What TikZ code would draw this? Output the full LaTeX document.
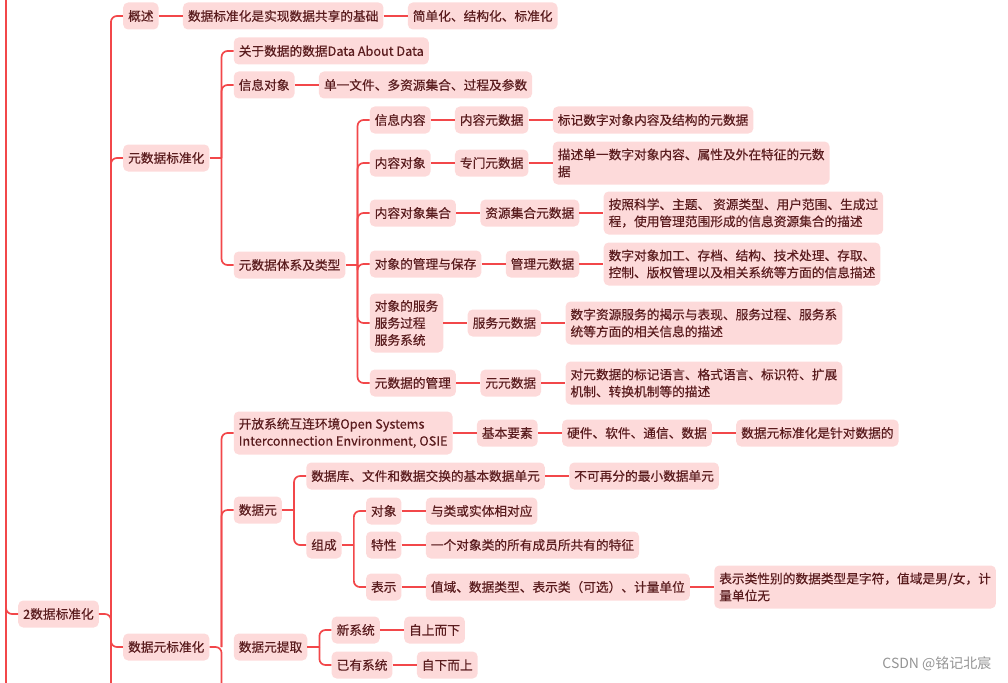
\documentclass[tikz,border=0pt]{standalone}
\usepackage{fontspec}
\newfontfamily\cjk{Noto Sans CJK SC}
\newfontfamily\cjkmed[FakeBold=0.35]{Noto Sans CJK SC}
\usetikzlibrary{positioning}
\definecolor{mmline}{HTML}{F2474A}
\definecolor{mmfill}{HTML}{FDDADA}
\definecolor{mmtext}{HTML}{5A1C1E}

\begin{document}
\begin{tikzpicture}[x=1pt, y=-1pt,
    topic/.style={fill=mmfill, text=mmtext, rounded corners=5pt, inner xsep=5pt, inner ysep=4pt, minimum height=27pt, align=left, font=\cjkmed\fontsize{12.7}{17}\selectfont},
    twoline/.style={minimum height=43pt},
    threeline/.style={minimum height=59pt},
    link/.style={draw=mmline, line width=1.7pt, rounded corners=6pt},
]
\useasboundingbox (0,0) rectangle (1008,682);

% trunk and root
\coordinate (trunk) at (6,0);
\node[topic, anchor=west] (root) at (18,614) {2数据标准化};
\draw[link] (trunk) -- (trunk |- 0,690);
\draw[link] (trunk |- 0,596) |- (root.west);

% level 1
\node[topic, anchor=west, xshift=24pt] (gaishu) at (root.east |- 0,16) {概述};
\node[topic, anchor=west, xshift=24pt] (yuanbz) at (root.east |- 0,158) {元数据标准化};
\node[topic, anchor=west, xshift=24pt] (sjybz) at (root.east |- 0,647) {数据元标准化};
\draw[link] (root.east) -- ++(12,0) -- ++(0,80);
\draw[link] (root.east) ++(12,0) |- (gaishu.west);
\draw[link] (root.east) ++(12,0) |- (yuanbz.west);
\draw[link] (root.east) ++(12,0) |- (sjybz.west);

% overview
\node[topic, right=24pt of gaishu] (jichu) {数据标准化是实现数据共享的基础};
\node[topic, right=24pt of jichu] (jdh) {简单化、结构化、标准化};
\draw[link] (gaishu)--(jichu); \draw[link] (jichu)--(jdh);

% metadata standardisation
\node[topic, anchor=west, xshift=24pt] (guanyu) at (yuanbz.east |- 0,51) {关于数据的数据Data About Data};
\node[topic, anchor=west, xshift=24pt] (xxdx) at (yuanbz.east |- 0,85) {信息对象};
\node[topic, anchor=west, xshift=24pt] (tixi) at (yuanbz.east |- 0,265) {元数据体系及类型};
\node[topic, right=24pt of xxdx] (dxwj) {单一文件、多资源集合、过程及参数};
\draw[link] (yuanbz.east) -- ++(12,0);
\draw[link] (yuanbz.east) ++(12,0) |- (guanyu.west);
\draw[link] (yuanbz.east) ++(12,0) |- (xxdx.west);
\draw[link] (yuanbz.east) ++(12,0) |- (tixi.west);
\draw[link] (xxdx)--(dxwj);

% metadata system and types
\node[topic, anchor=west, xshift=24pt] (xxnr) at (tixi.east |- 0,120) {信息内容};
\node[topic, anchor=west, xshift=24pt] (nrdx) at (tixi.east |- 0,163) {内容对象};
\node[topic, anchor=west, xshift=24pt] (nrjh) at (tixi.east |- 0,213) {内容对象集合};
\node[topic, anchor=west, xshift=24pt] (glbc) at (tixi.east |- 0,264) {对象的管理与保存};
\node[topic, anchor=west, xshift=24pt, threeline] (fuwu) at (tixi.east |- 0,323) {对象的服务\\服务过程\\服务系统};
\node[topic, anchor=west, xshift=24pt] (yygl) at (tixi.east |- 0,383) {元数据的管理};
\draw[link] (tixi.east) -- ++(12,0);
\draw[link] (tixi.east) ++(12,0) |- (xxnr.west);
\draw[link] (tixi.east) ++(12,0) |- (nrdx.west);
\draw[link] (tixi.east) ++(12,0) |- (nrjh.west);
\draw[link] (tixi.east) ++(12,0) |- (glbc.west);
\draw[link] (tixi.east) ++(12,0) |- (fuwu.west);
\draw[link] (tixi.east) ++(12,0) |- (yygl.west);

\node[topic, right=24pt of xxnr] (nrys) {内容元数据};
\node[topic, right=24pt of nrys] (nrysd) {标记数字对象内容及结构的元数据};
\node[topic, right=24pt of nrdx] (zmys) {专门元数据};
\node[topic, right=24pt of zmys, twoline] (zmysd) {描述单一数字对象内容、属性及外在特征的元数\\据};
\node[topic, right=24pt of nrjh] (zyjh) {资源集合元数据};
\node[topic, right=24pt of zyjh, twoline] (zyjhd) {按照科学、主题、 资源类型、用户范围、生成过\\程，使用管理范围形成的信息资源集合的描述};
\node[topic, right=24pt of glbc] (glys) {管理元数据};
\node[topic, right=24pt of glys, twoline] (glysd) {数字对象加工、存档、结构、技术处理、存取、\\控制、版权管理以及相关系统等方面的信息描述};
\node[topic, right=24pt of fuwu] (fwys) {服务元数据};
\node[topic, right=24pt of fwys, twoline] (fwysd) {数字资源服务的揭示与表现、服务过程、服务系\\统等方面的相关信息的描述};
\node[topic, right=24pt of yygl] (yyys) {元元数据};
\node[topic, right=24pt of yyys, twoline] (yyysd) {对元数据的标记语言、格式语言、标识符、扩展\\机制、转换机制等的描述};
\draw[link] (xxnr)--(nrys); \draw[link] (nrys)--(nrysd);
\draw[link] (nrdx)--(zmys); \draw[link] (zmys)--(zmysd);
\draw[link] (nrjh)--(zyjh); \draw[link] (zyjh)--(zyjhd);
\draw[link] (glbc)--(glys); \draw[link] (glys)--(glysd);
\draw[link] (fuwu)--(fwys); \draw[link] (fwys)--(fwysd);
\draw[link] (yygl)--(yyys); \draw[link] (yyys)--(yyysd);

% data element standardisation
\node[topic, anchor=west, xshift=24pt, twoline] (osie) at (sjybz.east |- 0,433) {开放系统互连环境Open Systems\\Interconnection Environment, OSIE};
\node[topic, anchor=west, xshift=24pt] (sjy) at (sjybz.east |- 0,510) {数据元};
\node[topic, anchor=west, xshift=24pt] (tiqu) at (sjybz.east |- 0,647) {数据元提取};
\draw[link] (sjybz.east) -- ++(12,0) -- ++(0,50);
\draw[link] (sjybz.east) ++(12,0) |- (osie.west);
\draw[link] (sjybz.east) ++(12,0) |- (sjy.west);

\node[topic, right=24pt of osie] (jbys) {基本要素};
\node[topic, right=24pt of jbys] (yjrj) {硬件、软件、通信、数据};
\node[topic, right=24pt of yjrj] (zdsj) {数据元标准化是针对数据的};
\draw[link] (osie)--(jbys); \draw[link] (jbys)--(yjrj); \draw[link] (yjrj)--(zdsj);

% data element
\node[topic, anchor=west, xshift=24pt] (jbdy) at (sjy.east |- 0,476) {数据库、文件和数据交换的基本数据单元};
\node[topic, anchor=west, xshift=24pt] (zucheng) at (sjy.east |- 0,545) {组成};
\draw[link] (sjy.east) -- ++(12,0);
\draw[link] (sjy.east) ++(12,0) |- (jbdy.west);
\draw[link] (sjy.east) ++(12,0) |- (zucheng.west);
\node[topic, right=24pt of jbdy] (zxdy) {不可再分的最小数据单元};
\draw[link] (jbdy)--(zxdy);

\node[topic, anchor=west, xshift=24pt] (duixiang) at (zucheng.east |- 0,511) {对象};
\node[topic, anchor=west, xshift=24pt] (texing) at (zucheng.east |- 0,545) {特性};
\node[topic, anchor=west, xshift=24pt] (biaoshi) at (zucheng.east |- 0,587) {表示};
\draw[link] (zucheng.east) -- ++(12,0);
\draw[link] (zucheng.east) ++(12,0) |- (duixiang.west);
\draw[link] (zucheng.east) ++(12,0) |- (biaoshi.west);
\node[topic, right=24pt of duixiang] (stdy) {与类或实体相对应};
\node[topic, right=24pt of texing] (gytz) {一个对象类的所有成员所共有的特征};
\node[topic, right=24pt of biaoshi] (zhiyu) {值域、数据类型、表示类（可选）、计量单位};
\node[topic, right=24pt of zhiyu, twoline] (xbli) {表示类性别的数据类型是字符，值域是男/女，计\\量单位无};
\draw[link] (duixiang)--(stdy); \draw[link] (texing)--(gytz);
\draw[link] (biaoshi)--(zhiyu); \draw[link] (zhiyu)--(xbli);

% extraction
\node[topic, anchor=west, xshift=24pt] (xinxt) at (tiqu.east |- 0,630) {新系统};
\node[topic, anchor=west, xshift=24pt] (yyxt) at (tiqu.east |- 0,665) {已有系统};
\draw[link] (tiqu.east) -- ++(12,0);
\draw[link] (tiqu.east) ++(12,0) |- (xinxt.west);
\draw[link] (tiqu.east) ++(12,0) |- (yyxt.west);
\node[topic, right=24pt of xinxt] (zsex) {自上而下};
\node[topic, right=24pt of yyxt] (zxes) {自下而上};
\draw[link] (xinxt)--(zsex); \draw[link] (yyxt)--(zxes);

\node[anchor=east, text=black!42, font=\cjk\fontsize{14}{16}\selectfont] (mark) at (995,664) {CSDN @铭记北宸};
\end{tikzpicture}
\end{document}
